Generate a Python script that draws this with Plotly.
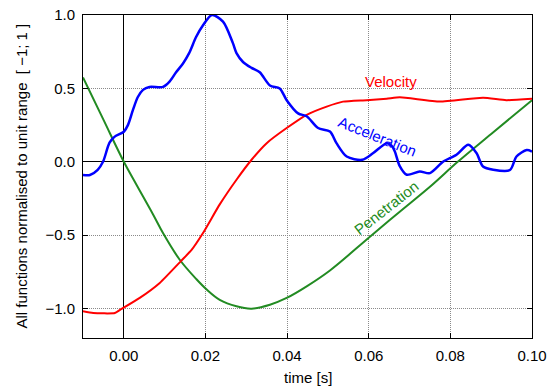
import plotly.graph_objects as go

# Acceleration (blue)
t_acc = [-0.010, -0.0083, -0.0064, -0.0051, -0.0035, -0.0023, 0.0, 0.001, 0.0022, 0.0034,
         0.0047, 0.0063, 0.0096, 0.0112, 0.0128, 0.0145, 0.016, 0.0177, 0.0194, 0.0216,
         0.0243, 0.0267, 0.0276, 0.0292, 0.0313, 0.0333, 0.0358, 0.0382, 0.0399, 0.0427,
         0.0448, 0.0476, 0.0505, 0.0521, 0.0546, 0.0584, 0.0611, 0.0644, 0.0656, 0.0664,
         0.0676, 0.0693, 0.0725, 0.075, 0.0782, 0.0815, 0.0844, 0.0864, 0.088, 0.0905,
         0.0946, 0.0962, 0.0987, 0.100]
acc = [-0.09, -0.09, -0.055, 0.0, 0.13, 0.17, 0.205, 0.25, 0.35, 0.44,
       0.49, 0.51, 0.51, 0.546, 0.61, 0.67, 0.74, 0.85, 0.93, 1.0,
       0.955, 0.81, 0.74, 0.68, 0.64, 0.61, 0.52, 0.50, 0.42, 0.33,
       0.31, 0.23, 0.206, 0.127, 0.036, 0.014, 0.06, 0.127, 0.11, 0.07,
       -0.03, -0.088, -0.066, -0.077, 0.0, 0.048, 0.116, 0.06, -0.032, -0.054,
       -0.056, 0.036, 0.08, 0.07]

# Velocity (red)
t_vel = [-0.010, -0.0075, -0.0022, -0.001, 0.0039, 0.0088, 0.0141, 0.0166, 0.0194, 0.0235,
         0.0276, 0.0313, 0.035, 0.0399, 0.0448, 0.0497, 0.0537, 0.0595, 0.0644, 0.0676,
         0.0774, 0.088, 0.0937, 0.100]
vel = [-1.018, -1.03, -1.03, -1.01, -0.927, -0.825, -0.673, -0.60, -0.485, -0.29,
       -0.122, 0.014, 0.127, 0.23, 0.32, 0.376, 0.41, 0.42, 0.43, 0.44,
       0.41, 0.437, 0.42, 0.43]

# Penetration (green)
t_pen = [-0.010, -0.005, 0.0, 0.0031, 0.0072, 0.0096, 0.0137, 0.0178, 0.0203, 0.0235,
         0.0276, 0.0313, 0.0358, 0.0399, 0.0448, 0.0505, 0.0603, 0.0676, 0.075, 0.0818,
         0.09, 0.100]
pen = [0.574, 0.287, 0.0, -0.156, -0.36, -0.485, -0.667, -0.80, -0.87, -0.94,
       -0.984, -1.0, -0.973, -0.927, -0.848, -0.74, -0.51, -0.34, -0.17, 0.0,
       0.19, 0.42]

x_ticks = [0.0, 0.02, 0.04, 0.06, 0.08, 0.10]
y_ticks = [-1.0, -0.5, 0.0, 0.5, 1.0]

FONT = "Liberation Sans, Arial, sans-serif"
FS = 15

fig = go.Figure()
fig.add_trace(go.Scatter(x=t_pen, y=pen, mode="lines",
                         line=dict(color="#228b22", width=2, shape="spline", smoothing=1.0), name="Penetration"))
fig.add_trace(go.Scatter(x=t_vel, y=vel, mode="lines",
                         line=dict(color="#ff0000", width=2, shape="spline", smoothing=0.5), name="Velocity"))
fig.add_trace(go.Scatter(x=t_acc, y=acc, mode="lines",
                         line=dict(color="#0000ff", width=2.5, shape="spline", smoothing=0.8), name="Acceleration"))

fig.add_annotation(x=0.0654, y=0.55, text="Velocity", showarrow=False,
                   font=dict(color="#ff0000", size=FS, family=FONT))
fig.add_annotation(x=0.0622, y=0.17, text="Acceleration", showarrow=False, textangle=22,
                   font=dict(color="#0000ff", size=FS, family=FONT))
fig.add_annotation(x=0.0644, y=-0.313, text="Penetration", showarrow=False, textangle=-38,
                   font=dict(color="#228b22", size=FS, family=FONT))

# axis titles
fig.add_annotation(xref="paper", yref="paper", x=0.5, y=0, yanchor="middle", yshift=-39,
                   text="time [s]", showarrow=False, font=dict(size=FS, family=FONT, color="black"))
fig.add_annotation(xref="paper", yref="paper", x=0, y=0.5, xanchor="center", xshift=-62,
                   text="All functions normalised to unit range  [ \u22121; 1 ]", textangle=-90,
                   showarrow=False, font=dict(size=FS, family=FONT, color="black"))

axis_common = dict(
    showline=True, linecolor="black", linewidth=1, mirror="ticks",
    ticks="inside", ticklen=5, tickcolor="black",
    showgrid=True, gridcolor="#8a8a8a", griddash="1px,1px", gridwidth=1,
    zeroline=True, zerolinecolor="black", zerolinewidth=1,
    tickfont=dict(size=FS, family=FONT, color="black"),
    automargin=False,
)

fig.update_layout(
    width=549, height=389,
    margin=dict(l=83, r=17, t=15, b=51),
    paper_bgcolor="white", plot_bgcolor="white",
    showlegend=False,
    font=dict(family=FONT, size=FS, color="black"),
    xaxis=dict(range=[-0.01, 0.10], tickvals=x_ticks, tickformat=".2f", ticklabelstandoff=4, **axis_common),
    yaxis=dict(range=[-1.2, 1.0], tickvals=y_ticks, tickformat=".1f", ticklabelstandoff=4, **axis_common),
)

fig.write_html("out.html")
